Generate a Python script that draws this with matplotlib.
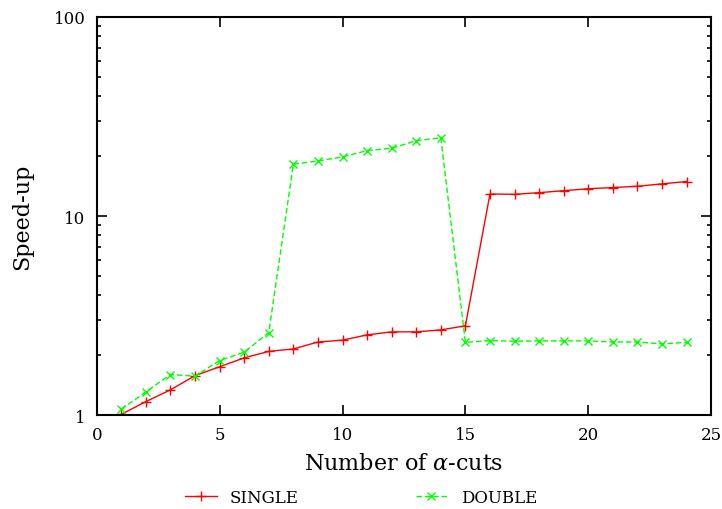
import matplotlib
matplotlib.use("Agg")
import matplotlib.pyplot as plt
from matplotlib.ticker import FixedLocator, LogLocator, NullFormatter

plt.rcParams.update({"font.family": "DejaVu Serif", "mathtext.fontset": "dejavuserif"})

cuts = list(range(1, 25))
single = [1.01, 1.17, 1.34, 1.58, 1.75, 1.94, 2.09, 2.15, 2.33, 2.38, 2.53, 2.62,
          2.62, 2.68, 2.81, 12.9, 12.85, 13.1, 13.4, 13.7, 13.9, 14.1, 14.5, 14.9]
double = [1.07, 1.31, 1.60, 1.57, 1.88, 2.07, 2.60, 18.2, 18.9, 19.8, 21.3, 21.9,
          23.9, 24.7, 2.32, 2.37, 2.35, 2.36, 2.36, 2.36, 2.33, 2.33, 2.28, 2.32]
xticks = [0, 5, 10, 15, 20, 25]
yticks = [1, 10, 100]

fig = plt.figure(figsize=(7.22, 5.10), dpi=100)
ax = fig.add_axes([0.134, 0.184, 0.851, 0.781])

ax.plot(cuts, single, color=(1, 0, 0), lw=1.0, ls="-", marker="+", ms=7, mew=1.0, label="SINGLE")
ax.plot(cuts, double, color=(0, 1, 0), lw=1.0, ls=(0, (4, 2)), marker="x", ms=6, mew=1.0, label="DOUBLE")

ax.set_yscale("log")
ax.set_xlim(0, 25)
ax.set_ylim(1, 100)
ax.xaxis.set_major_locator(FixedLocator(xticks))
ax.yaxis.set_major_locator(FixedLocator(yticks))
ax.set_yticklabels([str(v) for v in yticks])
ax.yaxis.set_minor_locator(LogLocator(base=10, subs=range(2, 10)))
ax.yaxis.set_minor_formatter(NullFormatter())
ax.tick_params(which="both", direction="in", top=True, right=True, labelsize=12, width=1.2)
ax.tick_params(which="major", length=7, pad=8)
ax.tick_params(which="minor", length=3)
for s in ax.spines.values():
    s.set_linewidth(1.5)

ax.set_xlabel(r"Number of $\alpha$-cuts", fontsize=16, labelpad=6)
ax.set_ylabel("Speed-up", fontsize=16, labelpad=15)

fig.legend(loc="center", bbox_to_anchor=(0.5, 0.022), ncol=2, frameon=False,
           fontsize=12, handlelength=1.9, columnspacing=7.0)

fig.savefig("out.png", dpi=100)
